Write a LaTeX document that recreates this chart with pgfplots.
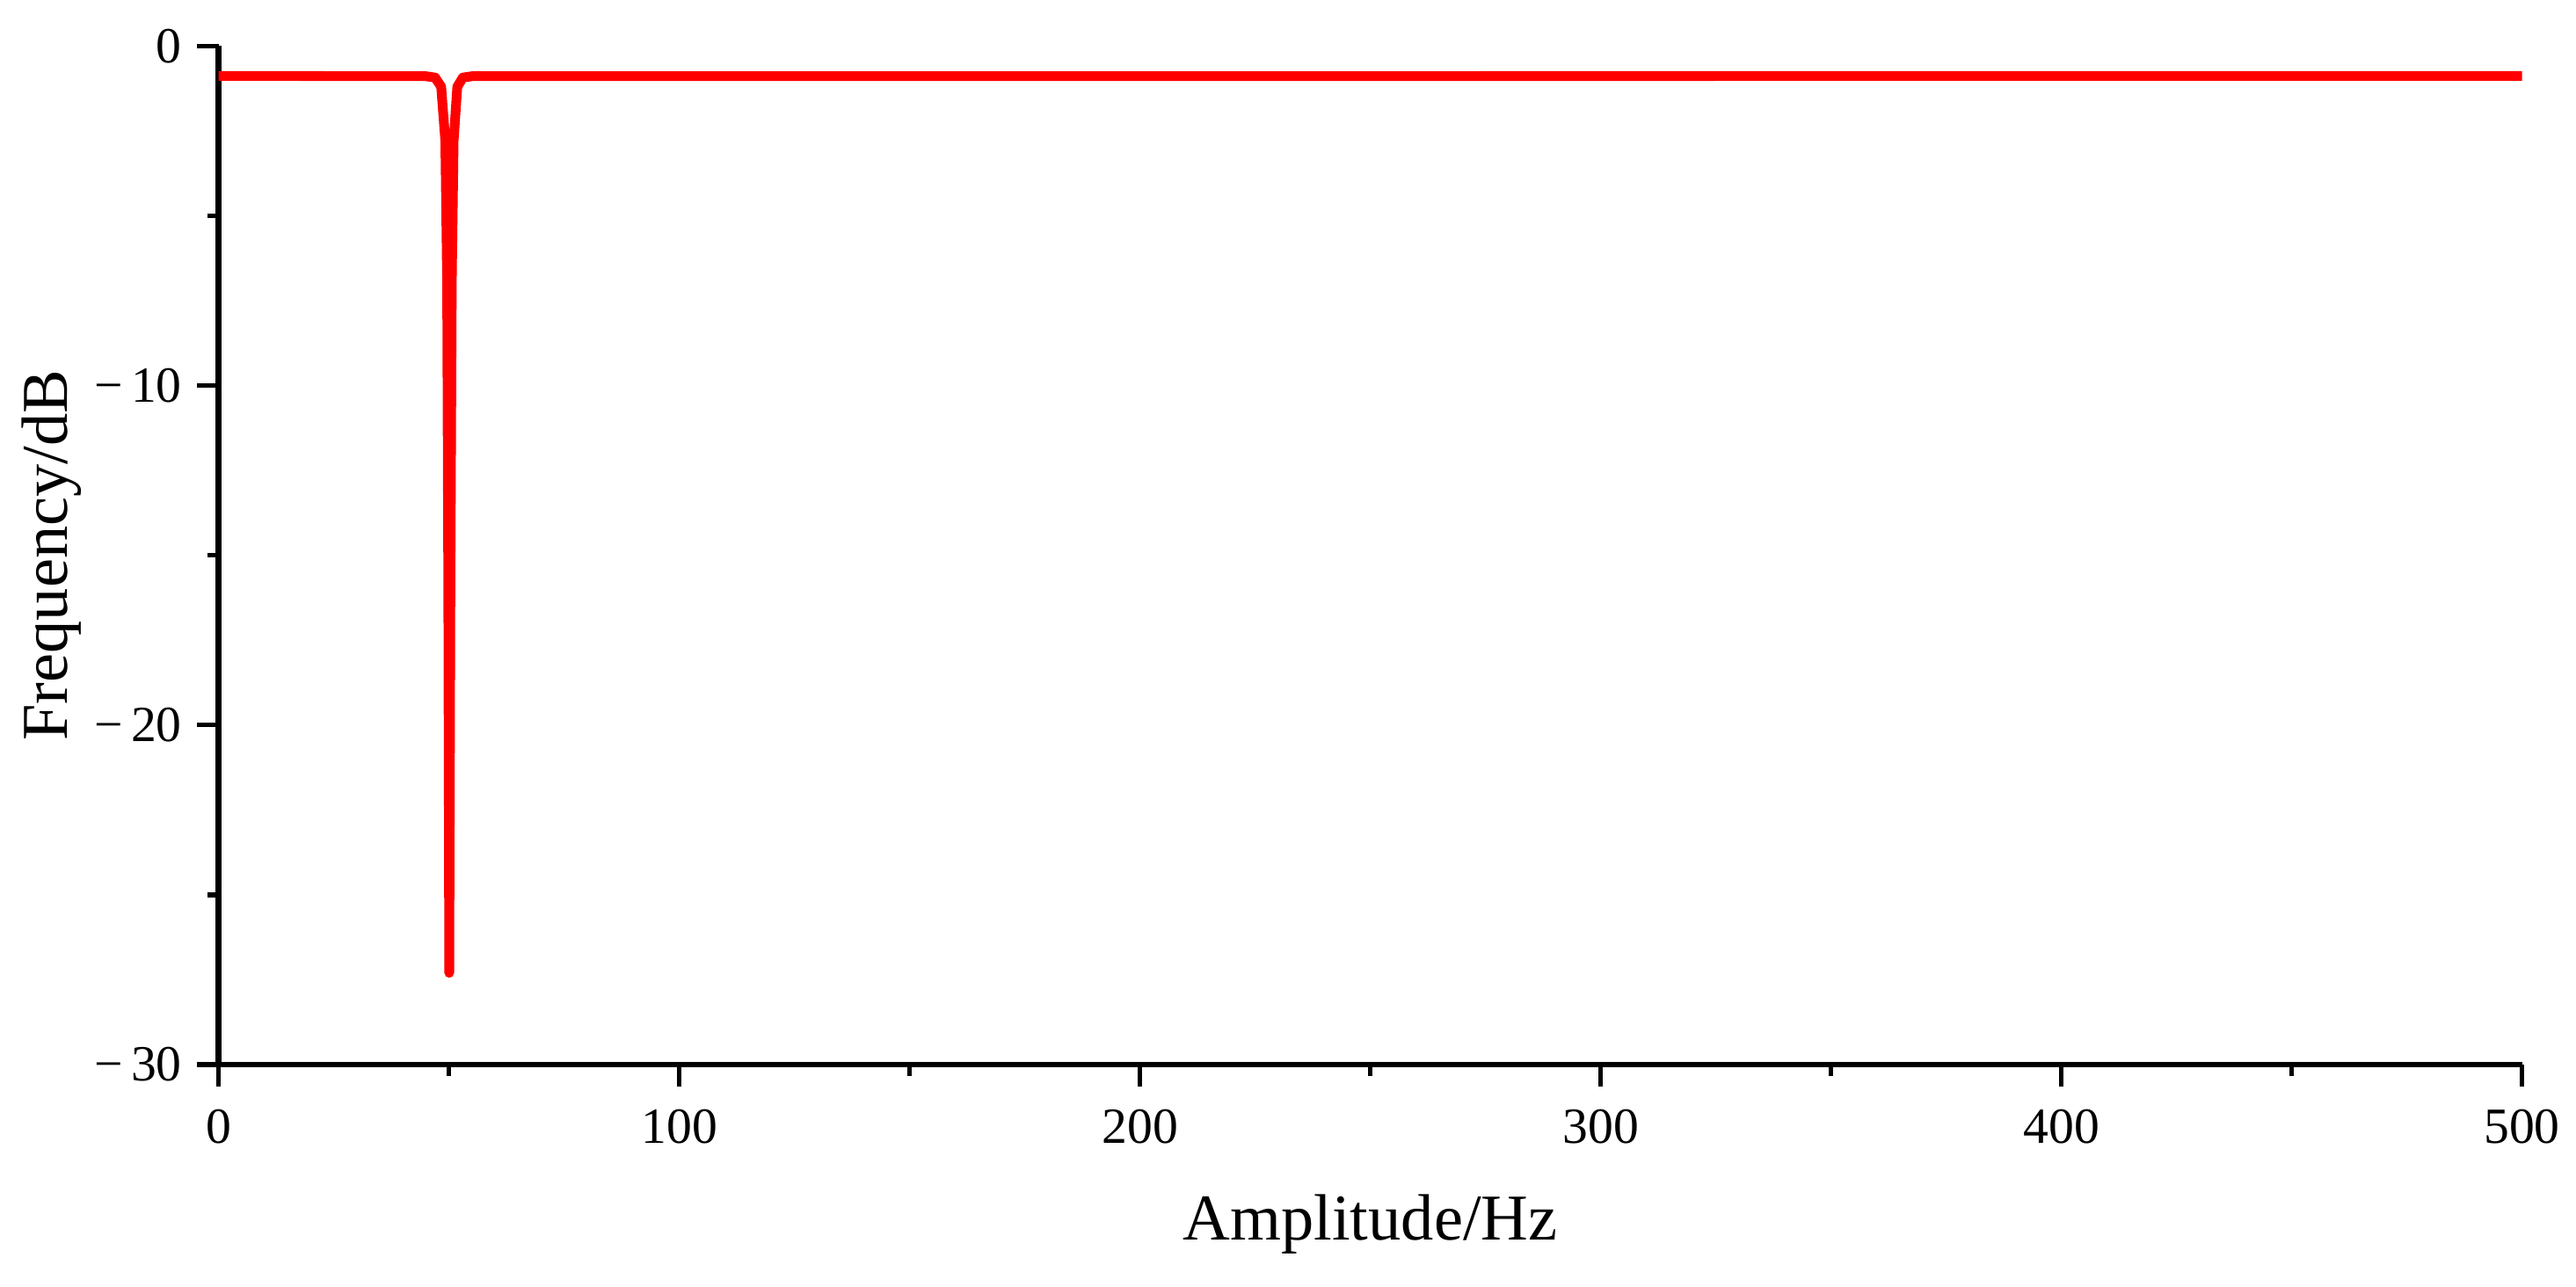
\documentclass[border=0pt]{standalone}
\usepackage{pgfplots}
\pgfplotsset{compat=1.18}
\usepackage{fontspec}
\setmainfont{Liberation Serif}
\begin{document}
\begin{tikzpicture}
\begin{axis}[
  scale only axis,
  width=545.6pt, height=241.3pt,
  xmin=0, xmax=500, ymin=-30, ymax=0,
  axis x line*=bottom, axis y line*=left,
  axis line style={line width=1.4pt, black},
  xtick={0,100,200,300,400,500},
  minor xtick={50,150,250,350,450},
  ytick={-30,-20,-10,0},
  yticklabels={−\,30,−\,20,−\,10,0},
  minor ytick={-25,-15,-5},
  tick align=outside,
  major tick length=5.2pt, minor tick length=2.7pt,
  tick style={line width=1.1pt, black},
  /pgf/number format/assume math mode=true,
  tick label style={font=\fontsize{12}{14}\selectfont},
  xticklabel style={yshift=-2pt},
  yticklabel style={xshift=0pt},
  xlabel={Amplitude/Hz}, ylabel={Frequency/dB},
  label style={font=\fontsize{15.5}{18}\selectfont},
  xlabel style={yshift=-5pt},
  ylabel style={at={([xshift=-35.8pt]axis description cs:0,0.5)}, anchor=base},
  clip=false,
]
\addplot[red, line width=2.3pt, line join=round] coordinates {
(0,-0.88) (45,-0.89) (47,-0.93) (48.3,-1.2) (49.2,-2.8) (49.6,-7) (49.85,-16) (50.05,-27.3)
(50.3,-16) (50.6,-7) (51.0,-2.8) (51.8,-1.2) (53,-0.93) (55,-0.89) (500,-0.88)
};
\end{axis}
\path ([xshift=-51.8pt,yshift=-52.5pt]current axis.south west) rectangle ([xshift=12.8pt,yshift=10.9pt]current axis.north east);
\end{tikzpicture}
\end{document}
